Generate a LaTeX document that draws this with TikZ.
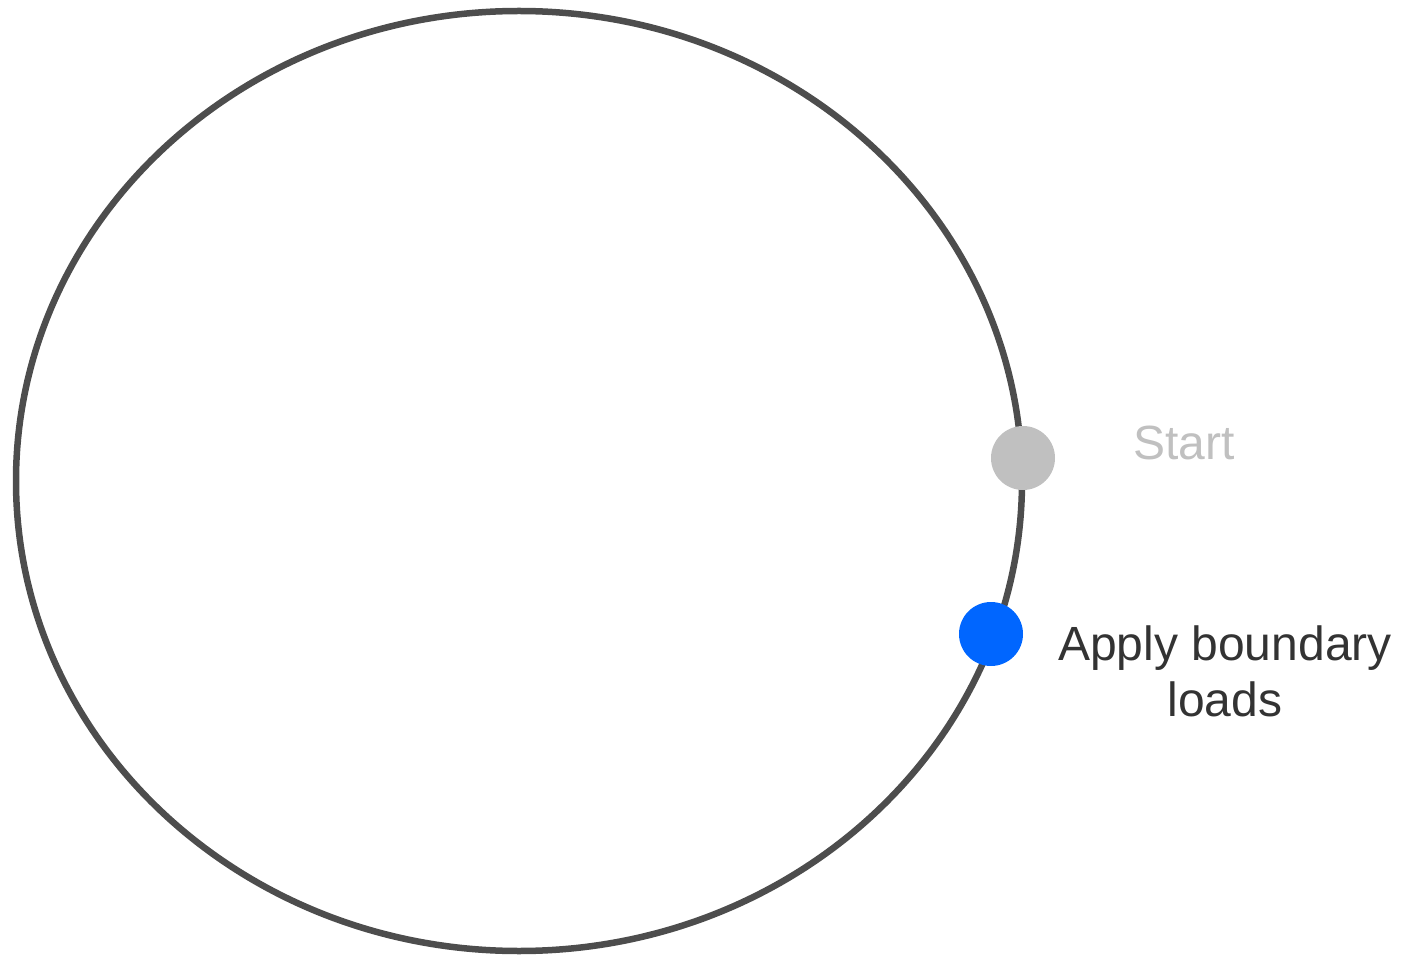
\documentclass[tikz,border=0pt]{standalone}
\usepackage{fontspec}
\setmainfont{Liberation Sans}
\definecolor{ringgray}{HTML}{4D4D4D}
\definecolor{startgray}{HTML}{C0C0C0}
\definecolor{applyblue}{HTML}{0066FF}
\definecolor{labeldark}{HTML}{333333}
\tikzset{
  dot/.style={circle, inner sep=0pt, minimum size=64pt},
  lbl/.style={font=\fontsize{48}{56}\selectfont, align=center, anchor=base, inner sep=0pt}
}
\begin{document}
\begin{tikzpicture}[x=1pt,y=-1pt]
\useasboundingbox (0,0) rectangle (1414,957);
\draw[line width=6.5pt, draw=ringgray] (519,481) ellipse [x radius=503, y radius=470];
\node[dot, fill=startgray] (start) at (1023,458) {};
\node[dot, fill=applyblue] (apply) at (991,634) {};
\node[lbl, text=startgray] (startlbl) at (1184,460) {Start};
\node[lbl, text=labeldark] (applylbl) at (1225,716) {Apply boundary\\loads};
\end{tikzpicture}
\end{document}
